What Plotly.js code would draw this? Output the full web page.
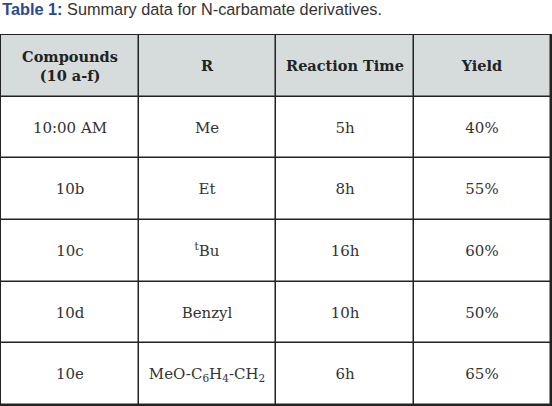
<!DOCTYPE html>
<html>
<head>
<meta charset="utf-8">
<script src="https://cdn.plot.ly/plotly-3.0.1.min.js"></script>
<style>
  html, body { margin: 0; padding: 0; background: #fff; }
  #chart { width: 552px; height: 406px; }
</style>
</head>
<body>
<div id="chart"></div>
<script>
// table contents
const headers = ['Compounds<br>(10 a-f)', 'R', 'Reaction Time', 'Yield'];
const compounds = ['10:00 AM', '10b', '10c', '10d', '10e'];
const rGroups = ['Me', 'Et', '<sup>t</sup>Bu', 'Benzyl', 'MeO-C<sub>6</sub>H<sub>4</sub>-CH<sub>2</sub>'];
const reactionTimes = ['5h', '8h', '16h', '10h', '6h'];
const yields = ['40%', '55%', '60%', '50%', '65%'];

// the grid: header row shaded, body rows white, drawn as heatmap bricks
const bodyCols = [compounds, rGroups, reactionTimes, yields];
const cellText = [headers.map(h => '<b style="font-size:14.5px;color:#222">' + h + '</b>')];
const cellShade = [headers.map(() => 1)];
for (let r = 0; r < compounds.length; r++) {
  cellText.push(bodyCols.map(col => col[r]));
  cellShade.push(bodyCols.map(() => 0));
}

const trace = {
  type: 'heatmap',
  z: cellShade,
  text: cellText,
  texttemplate: '%{text}',
  textfont: { family: 'DejaVu Serif', size: 15, color: '#333' },
  colorscale: [[0, '#ffffff'], [1, '#d6dcdc']],
  zmin: 0, zmax: 1,
  showscale: false,
  xgap: 1.5, ygap: 1.5,
  hoverinfo: 'skip',
};

const hidden = {
  showgrid: false, zeroline: false, showticklabels: false, ticks: '',
  showline: true, mirror: true, linecolor: '#222', linewidth: 1,
  fixedrange: true,
};

const layout = {
  width: 552,
  height: 406,
  paper_bgcolor: '#fff',
  plot_bgcolor: '#222',
  margin: { l: 1, r: 1, t: 35, b: 1 },
  xaxis: Object.assign({ range: [-0.5, 3.5] }, hidden),
  yaxis: Object.assign({ range: [5.5, -0.5] }, hidden),
  title: {
    text: '<b><span style="color:#2b4a8e">Table 1:</span></b> Summary data for N-carbamate derivatives.',
    font: { family: 'Liberation Sans', size: 16.3, color: '#333' },
    x: 0.004, xanchor: 'left', xref: 'container',
    y: 0.977, yanchor: 'middle', yref: 'container',
  },
};

Plotly.newPlot('chart', [trace], layout, { displayModeBar: false, staticPlot: true });
</script>
</body>
</html>
